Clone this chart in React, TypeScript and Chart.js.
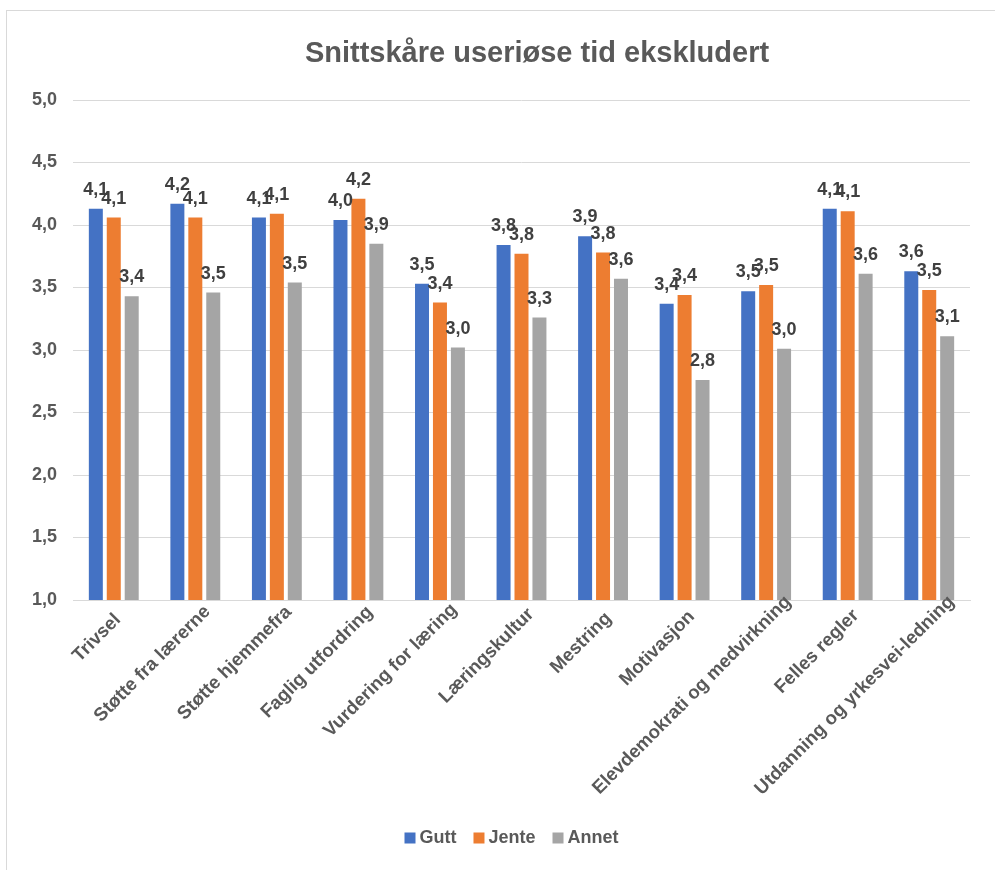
import React, { useEffect, useRef } from "react";
import { Chart, registerables } from "chart.js";

Chart.register(...registerables);

const categories = [
  "Trivsel",
  "Støtte fra lærerne",
  "Støtte hjemmefra",
  "Faglig utfordring",
  "Vurdering for læring",
  "Læringskultur",
  "Mestring",
  "Motivasjon",
  "Elevdemokrati og medvirkning",
  "Felles regler",
  "Utdanning og yrkesvei-ledning",
];

const gutt = [4.13, 4.17, 4.06, 4.04, 3.53, 3.84, 3.91, 3.37, 3.47, 4.13, 3.63];
const jente = [4.06, 4.06, 4.09, 4.21, 3.38, 3.77, 3.78, 3.44, 3.52, 4.11, 3.48];
const annet = [3.43, 3.46, 3.54, 3.85, 3.02, 3.26, 3.57, 2.76, 3.01, 3.61, 3.11];

const seriesNames = ["Gutt", "Jente", "Annet"];
const seriesColors = ["#4472C4", "#ED7D31", "#A5A5A5"];

const yTicks = [1.0, 1.5, 2.0, 2.5, 3.0, 3.5, 4.0, 4.5, 5.0];

const titleText = "Snittskåre useriøse tid ekskludert";

const FONT = "'Liberation Sans', Arial, sans-serif";
const fmt = (v: number) => v.toFixed(1).replace(".", ",");

const TEXT_GREY = "#595959";

const dataLabelPlugin = {
  id: "dataLabels",
  afterDatasetsDraw(chart: any) {
    const ctx = chart.ctx;
    ctx.save();
    ctx.font = `bold 18px ${FONT}`;
    ctx.fillStyle = "#404040";
    ctx.textAlign = "center";
    ctx.textBaseline = "alphabetic";
    chart.data.datasets.forEach((ds: any, i: number) => {
      const meta = chart.getDatasetMeta(i);
      meta.data.forEach((bar: any, j: number) => {
        ctx.fillText(fmt(ds.data[j]), bar.x, bar.y - 14);
      });
    });
    ctx.restore();
  },
};

const decorPlugin = {
  id: "decor",
  afterDraw(chart: any) {
    const ctx = chart.ctx;
    const area = chart.chartArea;
    ctx.save();
    // title
    ctx.font = `bold 29px ${FONT}`;
    ctx.fillStyle = TEXT_GREY;
    ctx.textAlign = "center";
    ctx.textBaseline = "middle";
    ctx.fillText(titleText, 530, 43);

    // rotated x labels
    const xs = chart.scales.x;
    ctx.font = `bold 18.7px ${FONT}`;
    ctx.textAlign = "right";
    ctx.textBaseline = "middle";
    categories.forEach((lab, i) => {
      const tx = xs.getPixelForTick(i);
      const L = ctx.measureText(lab).width;
      const s = 0.12 * Math.max(0, L - 60);
      const ax = tx + 4 + s * Math.SQRT1_2;
      const ay = area.bottom + 17 - s * Math.SQRT1_2;
      ctx.save();
      ctx.translate(ax, ay);
      ctx.rotate(-Math.PI / 4);
      ctx.fillText(lab, 0, 0);
      ctx.restore();
    });

    // legend
    ctx.font = `bold 18px ${FONT}`;
    ctx.textAlign = "left";
    ctx.textBaseline = "middle";
    const box = 11;
    const gapText = 4;
    const gapItem = 17;
    const widths = seriesNames.map((n) => ctx.measureText(n).width);
    const total =
      widths.reduce((a, b) => a + b, 0) + seriesNames.length * (box + gapText) + gapItem * (seriesNames.length - 1);
    let x = 504.5 - total / 2;
    const cy = 827;
    seriesNames.forEach((n, i) => {
      ctx.fillStyle = seriesColors[i];
      ctx.fillRect(x, cy - box / 2, box, box);
      ctx.fillStyle = TEXT_GREY;
      ctx.fillText(n, x + box + gapText, cy);
      x += box + gapText + widths[i] + gapItem;
    });
    ctx.restore();
  },
};

export default function App() {
  const ref = useRef<HTMLCanvasElement | null>(null);

  useEffect(() => {
    if (!ref.current) return;
    const allSeries = [gutt, jente, annet];
    const chart = new Chart(ref.current, {
      type: "bar",
      data: {
        labels: categories,
        datasets: allSeries.map((d, i) => ({
          label: seriesNames[i],
          data: d,
          backgroundColor: seriesColors[i],
          borderWidth: 0,
          categoryPercentage: 0.66,
          barPercentage: 0.78,
        })),
      },
      options: {
        animation: false,
        responsive: false,
        maintainAspectRatio: false,
        layout: { padding: { left: 0, right: 25, top: 89, bottom: 0 } },
        plugins: {
          title: { display: false },
          legend: { display: false },
          tooltip: { enabled: false },
        },
        scales: {
          x: {
            grid: { display: false },
            border: { display: true, color: "#d9d9d9", width: 1 },
            ticks: { display: false },
            afterFit(scale: any) {
              scale.height = scale.chart.height - 589;
            },
          },
          y: {
            min: 1,
            max: 5,
            afterBuildTicks(scale: any) {
              scale.ticks = yTicks.map((v) => ({ value: v }));
            },
            grid: { color: "#d9d9d9", lineWidth: 1, drawTicks: false },
            border: { display: false },
            ticks: {
              padding: 16,
              color: TEXT_GREY,
              font: { family: FONT, size: 18, weight: "bold" },
              callback: (v: any) => fmt(Number(v)),
            },
            afterFit(scale: any) {
              scale.width = 66;
            },
          },
        },
      },
      plugins: [dataLabelPlugin, decorPlugin],
    });
    return () => chart.destroy();
  }, []);

  return (
    <div
      style={{
        position: "absolute",
        left: 6,
        top: 10,
        width: 989,
        height: 860,
        borderTop: "1px solid #d9d9d9",
        borderLeft: "1px solid #d9d9d9",
        boxSizing: "border-box",
        background: "#fff",
      }}
    >
      <canvas ref={ref} width={988} height={859} style={{ display: "block" }} />
    </div>
  );
}
